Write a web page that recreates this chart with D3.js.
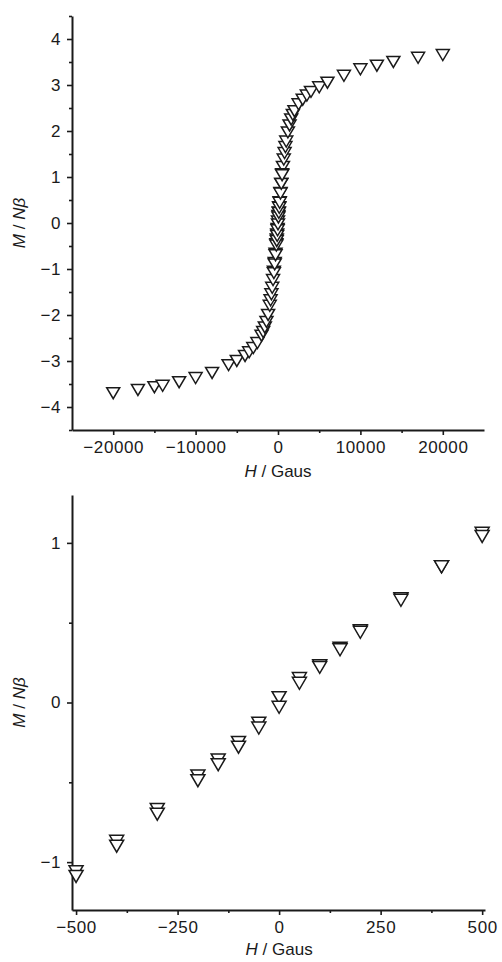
<!DOCTYPE html>
<html>
<head>
<meta charset="utf-8">
<script src="https://cdn.jsdelivr.net/npm/d3@7"></script>
<style>
  body { margin: 0; background: #fff; }
  svg { display: block; }
  text { font-family: "Liberation Sans", Arial, sans-serif; fill: #1a1a1a; }
</style>
</head>
<body>
<div id="chart"></div>
<script>
// Full sweep, |H| >= 600 (top panel)
var topH = [-20000, -17000, -15000, -14000, -12000, -10000, -8000, -6000, -5000, -4000,
            -3500, -3000, -2500, -2000, -1800, -1600, -1400, -1200, -1000, -900, -800, -700, -600,
            600, 700, 800, 900, 1000, 1200, 1400, 1600, 1800, 2000, 2500, 3000, 3500,
            4000, 5000, 6000, 8000, 10000, 12000, 14000, 17000, 20000];
var topM = [-3.70, -3.63, -3.57, -3.54, -3.46, -3.37, -3.26, -3.09, -3.00, -2.89,
            -2.81, -2.72, -2.61, -2.45, -2.37, -2.27, -2.15, -2.00, -1.80, -1.68, -1.55, -1.41, -1.24,
            1.22, 1.38, 1.52, 1.65, 1.77, 1.97, 2.12, 2.25, 2.35, 2.43, 2.58, 2.68, 2.77,
            2.85, 2.95, 3.05, 3.20, 3.34, 3.42, 3.50, 3.59, 3.65];

// Low-field region, two passes (both panels)
var lowH  = [-500, -400, -300, -200, -150, -100, -50, 0, 50, 100, 150, 200, 300, 400, 500];
var lowM1 = [-1.06, -0.87, -0.67, -0.46, -0.36, -0.25, -0.13, 0.03, 0.15, 0.23, 0.34, 0.45, 0.65, 0.85, 1.06];
var lowM2 = [-1.09, -0.90, -0.70, -0.49, -0.39, -0.28, -0.16, -0.03, 0.12, 0.22, 0.33, 0.44, 0.64, 0.85, 1.04];

// Tick values
var topXTicks = [-20000, -10000, 0, 10000, 20000],
    topXMinor = [-15000, -5000, 5000, 15000],
    topYTicks = [-4, -3, -2, -1, 0, 1, 2, 3, 4],
    topYMinor = [-4.5, -3.5, -2.5, -1.5, -0.5, 0.5, 1.5, 2.5, 3.5, 4.5];
var lowXTicks = [-500, -250, 0, 250, 500],
    lowXMinor = [-375, -125, 125, 375],
    lowYTicks = [-1, 0, 1],
    lowYMinor = [-0.5, 0.5];

var width = 502, height = 962;

var svg = d3.select("#chart").append("svg")
    .attr("width", width)
    .attr("height", height);

svg.append("rect").attr("width", width).attr("height", height).attr("fill", "#fff");

var fmt = d3.format("d");

var zip = function(hs, ms) {
    return hs.map(function(h, i) { return {h: h, m: ms[i]}; });
};

var triangle = function(w, h) {
    return "M" + (-w / 2) + "," + (-h / 2) + "L" + (w / 2) + "," + (-h / 2) + "L0," + (h / 2) + "Z";
};

var drawPanel = function(opt) {
    var x = d3.scaleLinear().domain(opt.xDomain).range([opt.left, opt.right]);
    var y = d3.scaleLinear().domain(opt.yDomain).range([opt.bottom, opt.top]);

    var g = svg.append("g");

    // minor ticks first
    g.append("g")
        .attr("transform", "translate(0," + opt.bottom + ")")
        .call(d3.axisBottom(x).tickValues(opt.xMinor).tickSize(3).tickFormat(""))
        .call(function(a) { a.select(".domain").remove(); });
    g.append("g")
        .attr("transform", "translate(" + opt.left + ",0)")
        .call(d3.axisLeft(y).tickValues(opt.yMinor).tickSize(3).tickFormat(""))
        .call(function(a) { a.select(".domain").remove(); });

    g.append("g")
        .attr("class", "axis")
        .attr("transform", "translate(0," + opt.bottom + ")")
        .call(d3.axisBottom(x).tickValues(opt.xTicks).tickFormat(fmt)
              .tickSize(5).tickSizeOuter(0).tickPadding(6));
    g.append("g")
        .attr("class", "axis")
        .attr("transform", "translate(" + opt.left + ",0)")
        .call(d3.axisLeft(y).tickValues(opt.yTicks).tickFormat(fmt)
              .tickSize(5).tickSizeOuter(0).tickPadding(6));

    g.selectAll(".domain").attr("stroke", "#1a1a1a").attr("stroke-width", 2);
    g.selectAll(".tick line").attr("stroke", "#1a1a1a").attr("stroke-width", 1.6);
    g.selectAll(".axis .tick text")
        .style("font-size", "17px")
        .style("letter-spacing", "0.6px")
        .attr("fill", "#1a1a1a");

    // markers
    var pts = g.append("g");
    opt.series.forEach(function(s) {
        pts.selectAll(null)
            .data(s)
            .enter().append("path")
            .attr("d", triangle(opt.mw, opt.mh))
            .attr("transform", function(d) { return "translate(" + x(d.h) + "," + y(d.m) + ")"; })
            .attr("fill", "#fff")
            .attr("stroke", "#1a1a1a")
            .attr("stroke-width", 1.5);
    });

    // axis titles
    var xt = g.append("text")
        .attr("x", x(0))
        .attr("y", opt.xTitleY)
        .attr("text-anchor", "middle")
        .style("font-size", "17px");
    xt.append("tspan").style("font-style", "italic").text("H");
    xt.append("tspan").text(" / Gaus");

    var yt = g.append("text")
        .attr("transform", "translate(" + opt.yTitleX + "," + y(0) + ") rotate(-90)")
        .attr("text-anchor", "middle")
        .style("font-size", "17px");
    yt.append("tspan").style("font-style", "italic").text("M");
    yt.append("tspan").text(" / ");
    yt.append("tspan").style("font-style", "italic").text("Nβ");
};

// Top panel: full field range
drawPanel({
    xDomain: [-25000, 25000], yDomain: [-4.5, 4.5],
    left: 72, right: 484, top: 16, bottom: 430,
    xTicks: topXTicks, xMinor: topXMinor, yTicks: topYTicks, yMinor: topYMinor,
    xTitleY: 477, yTitleX: 25,
    mw: 13, mh: 11,
    series: [zip(topH, topM), zip(lowH, lowM1), zip(lowH, lowM2)]
});

// Bottom panel: low field zoom
drawPanel({
    xDomain: [-510, 507], yDomain: [-1.3, 1.3],
    left: 72, right: 485, top: 495, bottom: 910,
    xTicks: lowXTicks, xMinor: lowXMinor, yTicks: lowYTicks, yMinor: lowYMinor,
    xTitleY: 955, yTitleX: 25,
    mw: 14, mh: 12,
    series: [zip(lowH, lowM1), zip(lowH, lowM2)]
});
</script>
</body>
</html>
